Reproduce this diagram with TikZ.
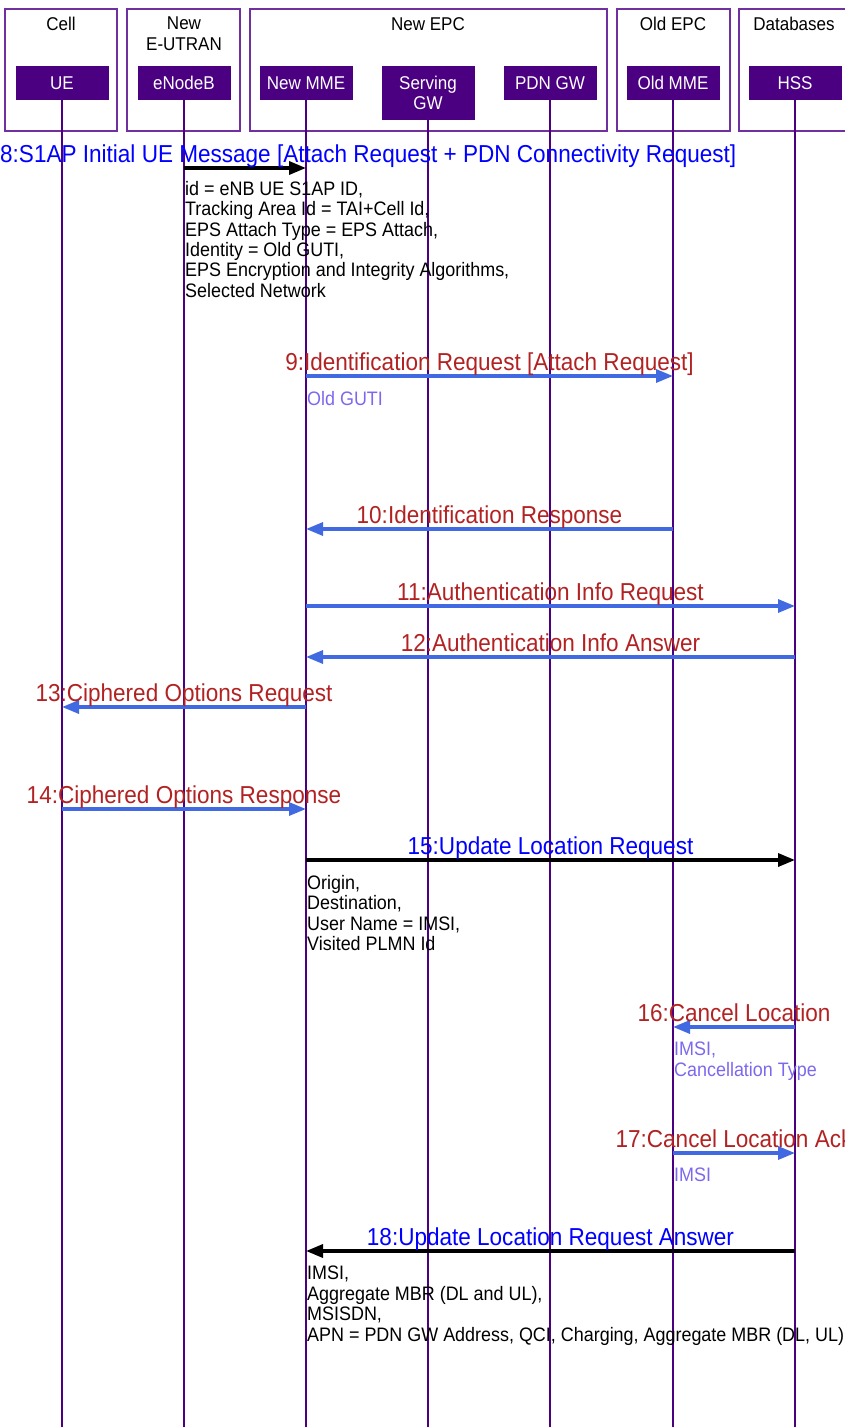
\documentclass[tikz,border=0pt]{standalone}
\usepackage{fontspec}
\setmainfont[FakeStretch=0.92]{Liberation Sans}
\usetikzlibrary{arrows.meta,positioning}
\definecolor{lifeline}{RGB}{75,0,130}
\definecolor{groupline}{RGB}{112,48,160}
\definecolor{msgblue}{RGB}{65,105,225}
\definecolor{lblred}{RGB}{178,34,34}
\definecolor{notepurple}{RGB}{123,104,238}

\begin{document}
\begin{tikzpicture}[x=1pt,y=-1pt,
    grp/.style={draw=groupline,line width=1.2pt,fill=white},
    grptitle/.style={font=\fontsize{18.5}{20.5}\selectfont,align=center,anchor=north,inner sep=0pt},
    actor/.style={fill=lifeline,text=white,minimum width=93pt,minimum height=34pt,inner sep=1pt,align=center,font=\fontsize{18.5}{19.5}\selectfont},
    life/.style={draw=lifeline,line width=1.8pt},
    msg/.style={draw=msgblue,line width=3.2pt,-{Triangle[length=17pt,width=13pt]}},
    sig/.style={draw=black,line width=3.4pt,-{Triangle[length=17pt,width=13pt]}},
    lbl/.style={text=lblred,font=\fontsize{24.5}{26}\selectfont,anchor=base,inner sep=0pt,yshift=6pt},
    siglbl/.style={lbl,text=blue},
    note/.style={anchor=north west,align=left,inner sep=0pt,font=\fontsize{19.5}{20.4}\selectfont},
    pnote/.style={note,text=notepurple}]
                \clip (0,0) rectangle (845,1427);
                %Groups
                \draw[grp] (5,9) rectangle (117,131);
                \draw[grp] (127,9) rectangle (240,131);
                \draw[grp] (250,9) rectangle (607,131);
                \draw[grp] (617,9) rectangle (730,131);
                \draw[grp] (739,9) rectangle (860,131);
                \node[grptitle] (gcell) at (61,17) {Cell};
                \node[grptitle] (geutran) at (184,17) {New\\E-UTRAN};
                \node[grptitle] (gnewepc) at (428,17) {New EPC};
                \node[grptitle] (goldepc) at (673,17) {Old EPC};
                \node[grptitle] (gdb) at (794,17) {Databases};
                %Actors
                \node[actor] (ue) at (62,83) {UE};
                \node[actor] (enb) at (184,83) {eNodeB};
                \node[actor] (mme) at (306,83) {New MME};
                \node[actor,minimum height=54pt] (sgw) at (428,93) {Serving\\GW};
                \node[actor] (pgw) at (550,83) {PDN GW};
                \node[actor] (oldmme) at (673,83) {Old MME};
                \node[actor] (hss) at (795,83) {HSS};
                %Lifelines
                \foreach \n in {ue,enb,mme,sgw,pgw,oldmme,hss}
                    \draw[life] (\n.south) -- (\n.south |- 0,1427);
                %Messages
                \draw[sig] (enb |- 0,168) -- (mme |- 0,168);
                \node[siglbl,anchor=base west] (l8) at (0,168) {8:S1AP Initial UE Message [Attach Request + PDN Connectivity Request]};
                \node[note] (n8) at (185,181) {id = eNB UE S1AP ID,\\Tracking Area Id = TAI+Cell Id,\\EPS Attach Type = EPS Attach,\\Identity = Old GUTI,\\EPS Encryption and Integrity Algorithms,\\Selected Network};
                \draw[msg] (mme |- 0,376) -- node[lbl] (l9) {9:Identification Request [Attach Request]} (oldmme |- 0,376);
                \node[pnote] (n9) at (307,391) {Old GUTI};
                \draw[msg] (oldmme |- 0,529) -- node[lbl] (l10) {10:Identification Response} (mme |- 0,529);
                \draw[msg] (mme |- 0,606) -- node[lbl] (l11) {11:Authentication Info Request} (hss |- 0,606);
                \draw[msg] (hss |- 0,657) -- node[lbl] (l12) {12:Authentication Info Answer} (mme |- 0,657);
                \draw[msg] (mme |- 0,707) -- node[lbl] (l13) {13:Ciphered Options Request} (ue |- 0,707);
                \draw[msg] (ue |- 0,809) -- node[lbl] (l14) {14:Ciphered Options Response} (mme |- 0,809);
                \draw[sig] (mme |- 0,860) -- node[siglbl] (l15) {15:Update Location Request} (hss |- 0,860);
                \node[note] (n15) at (307,875) {Origin,\\Destination,\\User Name = IMSI,\\Visited PLMN Id};
                \draw[msg] (hss |- 0,1027) -- node[lbl] (l16) {16:Cancel Location} (oldmme |- 0,1027);
                \node[pnote] (n16) at (674,1042) {IMSI,\\Cancellation Type};
                \draw[msg] (oldmme |- 0,1153) -- node[lbl] (l17) {17:Cancel Location Ack} (hss |- 0,1153);
                \node[pnote] (n17) at (674,1168) {IMSI};
                \draw[sig] (hss |- 0,1251) -- node[siglbl] (l18) {18:Update Location Request Answer} (mme |- 0,1251);
                \node[note] (n18) at (307,1266) {IMSI,\\Aggregate MBR (DL and UL),\\MSISDN,\\APN = PDN GW Address, QCI, Charging, Aggregate MBR (DL, UL)};
            \end{tikzpicture}
\end{document}
